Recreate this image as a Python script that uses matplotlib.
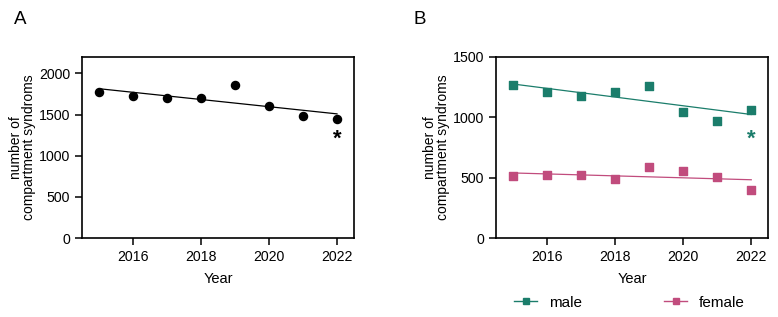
import numpy as np
import matplotlib
matplotlib.use("Agg")
import matplotlib.pyplot as plt

plt.rcParams['font.family'] = ['Liberation Sans', 'DejaVu Sans']

years = [2015, 2016, 2017, 2018, 2019, 2020, 2021, 2022]
total = [1778, 1729, 1701, 1697, 1855, 1600, 1483, 1450]
male = [1266, 1214, 1178, 1208, 1261, 1046, 969, 1057]
female = [512, 520, 520, 487, 592, 553, 509, 394]
xticks = [2016, 2018, 2020, 2022]
yticks_a = [0, 500, 1000, 1500, 2000]
yticks_b = [0, 500, 1000, 1500]
ylabel = "number of\ncompartment syndroms"

male_c = "#1b7d6b"
female_c = "#c14c7d"

fig = plt.figure(figsize=(7.78, 3.17), dpi=100)
axA = fig.add_axes([0.1054, 0.2492, 0.3496, 0.571])
axB = fig.add_axes([0.6375, 0.2492, 0.350, 0.571])

x = np.array(years, dtype=float)

def style(ax, yt, ylim):
    ax.set_xlim(2014.5, 2022.5)
    ax.set_ylim(*ylim)
    ax.set_xticks(xticks)
    ax.set_yticks(yt)
    ax.tick_params(direction='out', length=5, width=1.1, labelsize=10.2, pad=3.5)
    for s in ax.spines.values():
        s.set_linewidth(1.2)
    ax.set_xlabel("Year", fontsize=10.5, labelpad=6)
    ax.set_ylabel(ylabel, fontsize=10, labelpad=2, linespacing=0.95)

# Panel A
axA.scatter(years, total, s=34, color='black', zorder=3)
p = np.polyfit(x, total, 1)
axA.plot([years[0], years[-1]], np.polyval(p, [years[0], years[-1]]), color='black', lw=0.9)
style(axA, yticks_a, (0, 2200))
axA.text(2022, 1200, "*", fontsize=16, fontweight='bold', ha='center', va='center')

# Panel B
pm = np.polyfit(x, male, 1)
pf = np.polyfit(x, female, 1)
axB.plot([years[0], years[-1]], np.polyval(pm, [years[0], years[-1]]), color=male_c, lw=0.9)
axB.plot([years[0], years[-1]], np.polyval(pf, [years[0], years[-1]]), color=female_c, lw=0.9)
axB.scatter(years, male, s=36, marker='s', color=male_c, zorder=3)
axB.scatter(years, female, s=36, marker='s', color=female_c, zorder=3)
style(axB, yticks_b, (0, 1500))
axB.text(2022, 815, "*", fontsize=16, fontweight='bold', ha='center', va='center', color=male_c)

h1, = axB.plot([], [], color=male_c, marker='s', ms=5, lw=1)
h2, = axB.plot([], [], color=female_c, marker='s', ms=5, lw=1)
fig.legend([h1, h2], ["male", "female"], loc='center', bbox_to_anchor=(0.809, 0.045),
           ncol=2, frameon=False, fontsize=11, columnspacing=5.4, handlelength=1.5,
           handletextpad=0.75)

fig.text(0.018, 0.937, "A", fontsize=13.5, ha='left', va='center')
fig.text(0.531, 0.937, "B", fontsize=13.5, ha='left', va='center')

fig.savefig("out.png", dpi=100)
